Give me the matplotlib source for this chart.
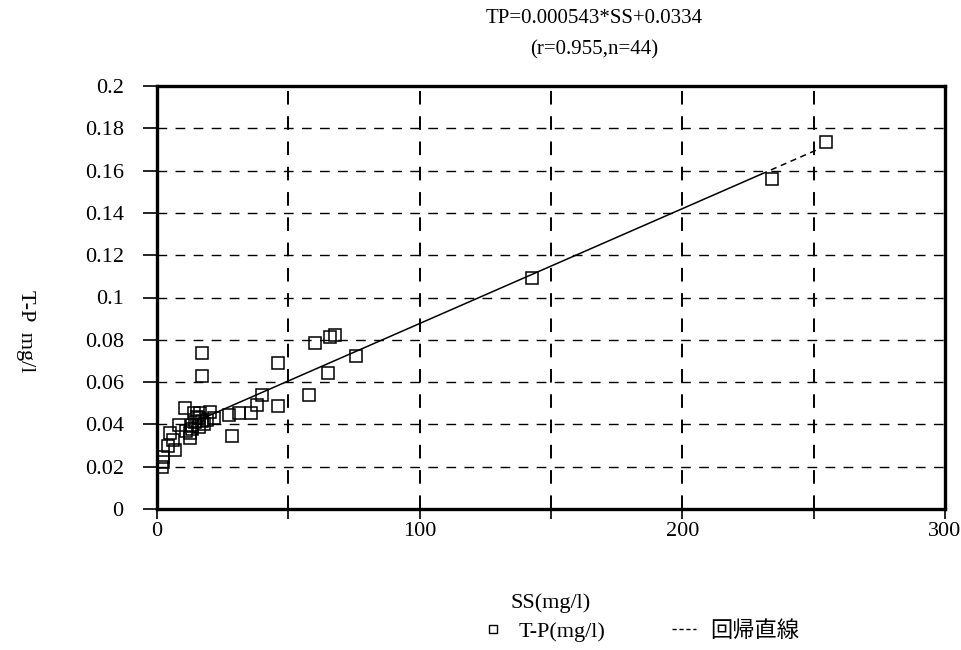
import numpy as np
import matplotlib
matplotlib.use('Agg')
import matplotlib.pyplot as plt
from matplotlib.lines import Line2D

plt.rcParams['font.family'] = ['Liberation Serif', 'Noto Sans CJK JP']

# SS (mg/l) vs T-P (mg/l)
ss = [1.8, 2.4, 2.4, 6.9, 6.0, 5.0, 8.2, 10.5, 12.6, 12.6,
      13.3, 13.9, 15.2, 15.8, 16.5, 17.1, 19.0, 21.6, 17.1, 17.1,
      27.6, 28.4, 31.1, 35.6, 37.9, 40.1, 45.9, 45.9, 58.0, 60.3,
      65.0, 65.9, 67.8, 75.9, 142.9, 234.1, 254.8, 14.5, 16.1, 18.0,
      11.0, 4.2, 13.4, 20.3]
tp = [0.020, 0.0224, 0.0248, 0.028, 0.0327, 0.0359, 0.0398, 0.0477, 0.0359, 0.0335,
      0.0398, 0.0454, 0.0437, 0.039, 0.0454, 0.0414, 0.0422, 0.043, 0.0738, 0.0627,
      0.0445, 0.0343, 0.0456, 0.0456, 0.0493, 0.054, 0.069, 0.0488, 0.054, 0.0785,
      0.0643, 0.0814, 0.0825, 0.0725, 0.109, 0.156, 0.1735, 0.041, 0.043, 0.040,
      0.037, 0.030, 0.038, 0.046]

slope = 0.000543
icept = 0.0334
fit_solid = [18, 230]
fit_dash = [230, 252]

xticks = [0, 100, 200, 300]
xminor = [50, 150, 250]
yticks = [0, 0.02, 0.04, 0.06, 0.08, 0.1, 0.12, 0.14, 0.16, 0.18, 0.2]
ylabels = ['0', '0.02', '0.04', '0.06', '0.08', '0.1', '0.12', '0.14', '0.16', '0.18', '0.2']

fig = plt.figure(figsize=(9.62, 6.5), dpi=100)
ax = fig.add_axes([157/962, 1 - 509/650, (945 - 157)/962, (509 - 86)/650])

# dashed grid
for gx in [50, 100, 150, 200, 250]:
    ax.axvline(gx, color='black', lw=1.4, ls=(0, (7, 6)), zorder=1)
for gy in yticks[1:-1]:
    ax.axhline(gy, color='black', lw=1.0, ls=(0, (7, 6)), zorder=1)

ax.plot(ss, tp, 's', mfc='none', mec='black', ms=9, mew=1.1, zorder=3)

fs = np.array(fit_solid)
fd = np.array(fit_dash)
ax.plot(fs, slope*fs + icept, color='black', lw=1.1, zorder=2)
ax.plot(fd, slope*fd + icept, color='black', lw=1.1, ls=(0, (4, 3)), zorder=2)

ax.set_xlim(0, 300)
ax.set_ylim(0, 0.2)
ax.set_xticks(xticks)
ax.set_xticks(xminor, minor=True)
ax.set_yticks(yticks)
ax.set_yticklabels(ylabels)
ax.tick_params(axis='both', which='both', direction='out', length=7, width=1.2,
               labelsize=16, color='black')
ax.tick_params(axis='x', pad=2)
ax.tick_params(axis='y', length=10, pad=14)
for s in ax.spines.values():
    s.set_linewidth(2.4)

ax.set_xlabel('SS(mg/l)', fontsize=16, labelpad=38)
fig.text(0.027, 0.49, 'T-P  mg/l', rotation=270, fontsize=16, ha='center', va='center')

fig.text(0.618, 0.972, 'TP=0.000543*SS+0.0334', fontsize=15, ha='center', va='center')
fig.text(0.618, 0.923, '(r=0.955,n=44)', fontsize=15, ha='center', va='center')

handles = [Line2D([], [], marker='s', ls='none', mfc='none', mec='black', ms=6, mew=1.0),
           Line2D([], [], color='black', ls=(0, (3, 2)), lw=1.0)]
fig.legend(handles, ['T-P(mg/l)', '回帰直線'], loc='center', ncol=2,
           bbox_to_anchor=(0.665, 0.028), frameon=False, fontsize=16,
           handlelength=1.1, handletextpad=0.6, columnspacing=3.0)

fig.savefig('out.png', dpi=100)
